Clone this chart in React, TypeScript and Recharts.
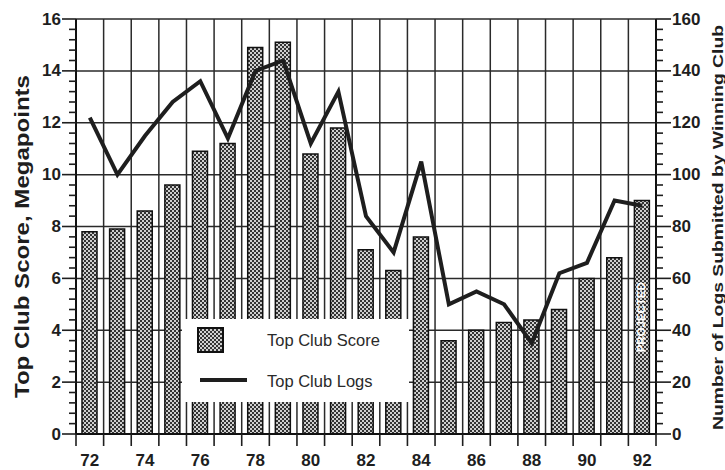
import React from 'react';
import {
  ComposedChart,
  Bar,
  Line,
  XAxis,
  YAxis,
  CartesianGrid,
  Legend,
  LabelList,
  Label,
} from 'recharts';

// ---- data ----
const years = [72, 73, 74, 75, 76, 77, 78, 79, 80, 81, 82, 83, 84, 85, 86, 87, 88, 89, 90, 91, 92];
const yearLabels = [72, 74, 76, 78, 80, 82, 84, 86, 88, 90, 92];
const topClubScore = [7.8, 7.9, 8.6, 9.6, 10.9, 11.2, 14.9, 15.1, 10.8, 11.8, 7.1, 6.3, 7.6, 3.6, 4.0, 4.3, 4.4, 4.8, 6.0, 6.8, 9.0];
const topClubLogs = [122, 100, 115, 128, 136, 114, 140, 144, 112, 132, 84, 70, 105, 50, 55, 50, 35, 62, 66, 90, 88];
const projectedYears = [92];
const scoreTicks = [0, 2, 4, 6, 8, 10, 12, 14, 16];
const logTicks = [0, 20, 40, 60, 80, 100, 120, 140, 160];

const seriesNames = { score: 'Top Club Score', logs: 'Top Club Logs' };
const leftTitle = 'Top Club Score, Megapoints';
const rightTitle = 'Number of Logs Submitted by Winning Club';
const projectedText = 'PROJECTED';

// ---- derived tables ----
const data = years.map((y, i) => ({
  year: y,
  score: topClubScore[i],
  logs: topClubLogs[i],
  note: projectedYears.includes(y) ? projectedText : '',
}));

const withMinor = (majors: number[], parts: number) => {
  const out: number[] = [];
  majors.forEach((m, i) => {
    out.push(m);
    if (i < majors.length - 1) {
      const step = (majors[i + 1] - m) / parts;
      for (let k = 1; k < parts; k++) out.push(m + step * k);
    }
  });
  return out;
};
const scoreAllTicks = withMinor(scoreTicks, 5);
const logAllTicks = withMinor(logTicks, 5);
const boundaries = [...years.map((y) => y - 0.5), years[years.length - 1] + 0.5];
const xAllTicks = [...boundaries, ...yearLabels].sort((a, b) => a - b);

const FONT = '"Liberation Sans", Arial, Helvetica, sans-serif';
const INK = '#1e1e1e';

const LeftTick = (props: any) => {
  const { x, y, payload } = props;
  const v = payload.value;
  const major = scoreTicks.includes(v);
  return (
    <g>
      <line x1={x - (major ? 14 : 7)} x2={x} y1={y} y2={y} stroke={INK} strokeWidth={1.6} />
      {major && (
        <text x={x - 15} y={y} textAnchor="end" dominantBaseline="central" fontFamily={FONT} fontWeight="bold" fontSize={17} fill={INK}>
          {v}
        </text>
      )}
    </g>
  );
};

const RightTick = (props: any) => {
  const { x, y, payload } = props;
  const v = payload.value;
  const major = logTicks.includes(v);
  return (
    <g>
      <line x1={x} x2={x + (major ? 15 : 7)} y1={y} y2={y} stroke={INK} strokeWidth={1.6} />
      {major && (
        <text x={x + 16} y={y} textAnchor="start" dominantBaseline="central" fontFamily={FONT} fontWeight="bold" fontSize={17} fill={INK}>
          {v}
        </text>
      )}
    </g>
  );
};

const BottomTick = (props: any) => {
  const { x, y, payload } = props;
  const v = payload.value;
  if (yearLabels.includes(v)) {
    return (
      <text x={x} y={y + 32} textAnchor="middle" fontFamily={FONT} fontWeight="bold" fontSize={17} fill={INK}>
        {v}
      </text>
    );
  }
  return <line x1={x} x2={x} y1={y} y2={y + 12} stroke={INK} strokeWidth={1.6} />;
};

const LegendBox = (props: any) => {
  const payload = props.payload || [];
  const scoreEntry = payload.find((p: any) => p.dataKey === 'score');
  const logsEntry = payload.find((p: any) => p.dataKey === 'logs');
  return (
    <div style={{ width: 227, height: 83, background: '#fff' }}>
      <svg width={227} height={83} style={{ display: 'block' }}>
        <rect x={16} y={9} width={25} height={24} fill="url(#dotPattern)" stroke="#111" strokeWidth={2} />
        <text x={85} y={21} dominantBaseline="central" fontFamily={FONT} fontSize={16.5} fill="#2a2a2a">
          {scoreEntry ? scoreEntry.value : seriesNames.score}
        </text>
        <line x1={18} x2={65} y1={61} y2={61} stroke={INK} strokeWidth={4} />
        <text x={85} y={62} dominantBaseline="central" fontFamily={FONT} fontSize={16.5} fill="#2a2a2a">
          {logsEntry ? logsEntry.value : seriesNames.logs}
        </text>
      </svg>
    </div>
  );
};

const ProjectedLabel = (props: any) => {
  const { x, y, width, height, value } = props;
  if (!value) return null;
  const cx = x + width / 2;
  const cy = y + height / 2;
  return (
    <text
      x={cx}
      y={cy}
      transform={`rotate(-90 ${cx} ${cy})`}
      textAnchor="middle"
      dominantBaseline="central"
      fontFamily={FONT}
      fontWeight="bold"
      fontSize={10}
      fill="#fff"
      textLength={70}
      lengthAdjust="spacingAndGlyphs"
    >
      {value}
    </text>
  );
};

const LeftTitle = (props: any) => {
  const vb = props.viewBox;
  const cx = vb.x + 22;
  const cy = vb.y + vb.height / 2 + 10;
  return (
    <text x={cx} y={cy} transform={`rotate(-90 ${cx} ${cy})`} textAnchor="middle" dominantBaseline="central"
      fontFamily={FONT} fontWeight="bold" fontSize={20} fill={INK} textLength={323} lengthAdjust="spacingAndGlyphs">
      {leftTitle}
    </text>
  );
};

const RightTitle = (props: any) => {
  const vb = props.viewBox;
  const cx = vb.x + 61;
  const cy = vb.y + vb.height / 2 + 1;
  return (
    <text x={cx} y={cy} transform={`rotate(-90 ${cx} ${cy})`} textAnchor="middle" dominantBaseline="central"
      fontFamily={FONT} fontWeight="bold" fontSize={15.5} fill={INK} textLength={405} lengthAdjust="spacingAndGlyphs">
      {rightTitle}
    </text>
  );
};

export default function App() {
  return (
    <div style={{ position: 'absolute', left: 0, top: 0, width: 725, height: 470, background: '#fff' }}>
      <svg width={0} height={0} style={{ position: 'absolute' }}>
        <defs>
          <pattern id="dotPattern" width={4} height={4} patternUnits="userSpaceOnUse">
            <rect width={4} height={4} fill="#cfcfcf" />
            <rect x={0} y={0} width={2} height={2} fill="#333" />
            <rect x={2} y={2} width={2} height={2} fill="#333" />
          </pattern>
        </defs>
      </svg>
      <ComposedChart width={725} height={470} data={data} margin={{ top: 19, right: 0, bottom: 0, left: 0 }}>
        <CartesianGrid
          xAxisId="num"
          yAxisId="left"
          verticalValues={boundaries}
          horizontalValues={scoreTicks}
          stroke="#2a2a2a"
          strokeWidth={1.5}
        />
        <XAxis xAxisId="cat" dataKey="year" type="category" orientation="top" hide />
        <XAxis
          xAxisId="num"
          dataKey="year"
          type="number"
          domain={[boundaries[0], boundaries[boundaries.length - 1]]}
          ticks={xAllTicks}
          interval={0}
          height={36}
          tickSize={0}
          tickMargin={0}
          tickLine={false}
          axisLine={{ stroke: '#111', strokeWidth: 2 }}
          tick={<BottomTick />}
          allowDataOverflow
        />
        <YAxis
          yAxisId="left"
          domain={[0, 16]}
          ticks={scoreAllTicks}
          interval={0}
          width={76}
          tickSize={0}
          tickMargin={0}
          tickLine={false}
          axisLine={{ stroke: '#111', strokeWidth: 2 }}
          tick={<LeftTick />}
        >
          <Label content={<LeftTitle />} />
        </YAxis>
        <YAxis
          yAxisId="right"
          orientation="right"
          domain={[0, 160]}
          ticks={logAllTicks}
          interval={0}
          width={69}
          tickSize={0}
          tickMargin={0}
          tickLine={false}
          axisLine={{ stroke: '#111', strokeWidth: 2 }}
          tick={<RightTick />}
        >
          <Label content={<RightTitle />} />
        </YAxis>
        <Bar
          xAxisId="cat"
          yAxisId="left"
          dataKey="score"
          name={seriesNames.score}
          barSize={15}
          fill="url(#dotPattern)"
          stroke="#111"
          strokeWidth={1.5}
          isAnimationActive={false}
        >
          <LabelList dataKey="note" content={<ProjectedLabel />} />
        </Bar>
        <Line
          xAxisId="cat"
          yAxisId="right"
          dataKey="logs"
          name={seriesNames.logs}
          type="linear"
          stroke={INK}
          strokeWidth={4}
          dot={false}
          activeDot={false}
          isAnimationActive={false}
        />
        <Legend
          layout="vertical"
          align="center"
          verticalAlign="middle"
          content={<LegendBox />}
          wrapperStyle={{ position: 'absolute', left: 182, top: 319, width: 227, height: 83 }}
        />
      </ComposedChart>
    </div>
  );
}
